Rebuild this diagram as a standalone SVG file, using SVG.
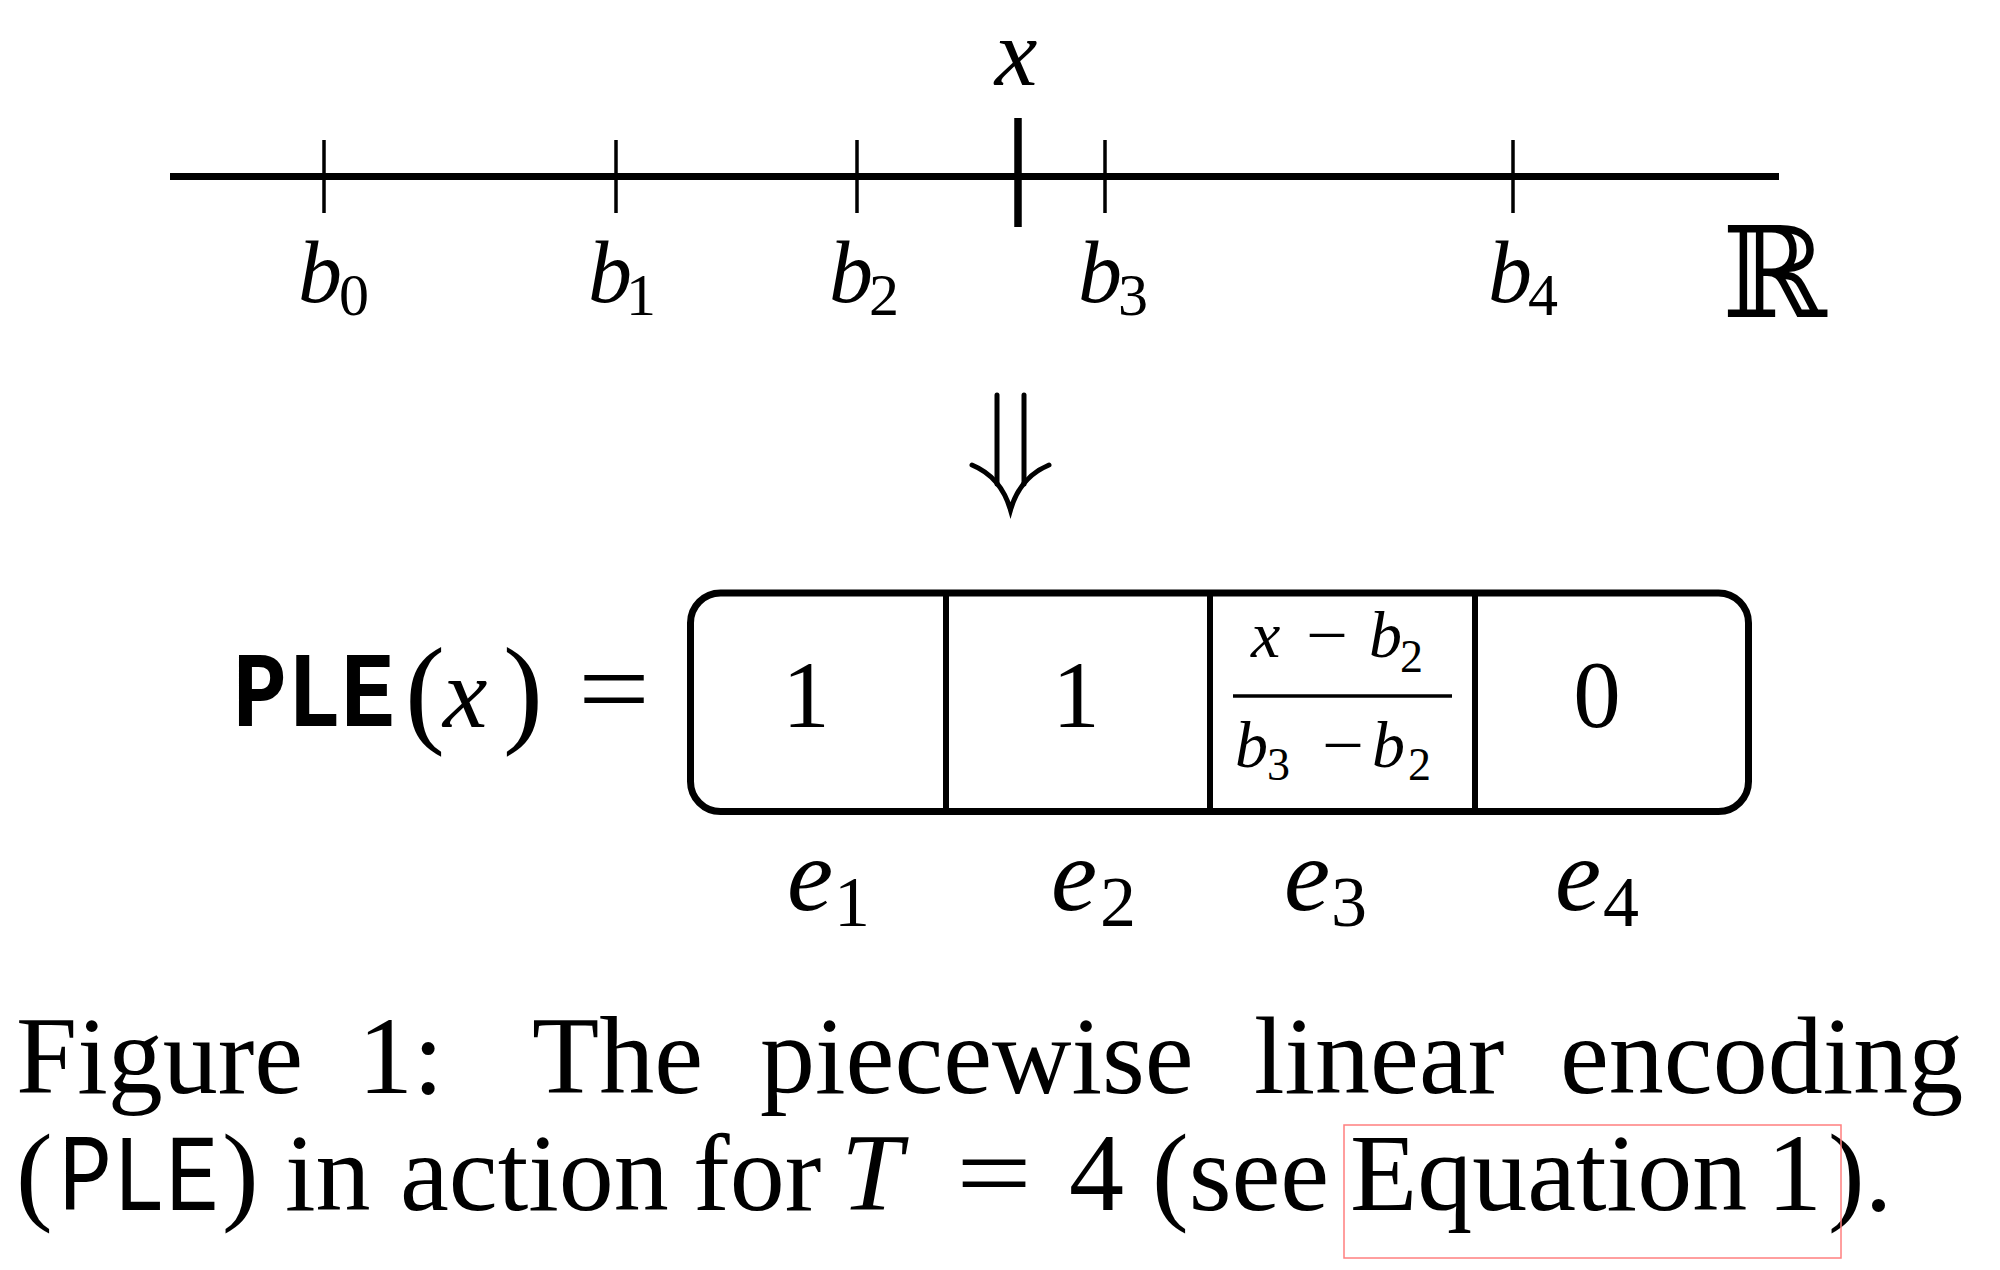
<svg xmlns="http://www.w3.org/2000/svg" width="2000" height="1270" viewBox="0 0 2000 1270">
<style>
.mi{font-family:"Liberation Serif",serif;font-style:italic;fill:#000}
.rm{font-family:"Liberation Serif",serif;fill:#000}
.tt{font-family:"Liberation Mono",monospace;fill:#000}
.lab{font-size:88px}
.sub{font-size:60px;font-style:normal}
.el{font-size:104px}
.esub{font-size:72px;font-style:normal}
.fr{font-size:66px}
.frs{font-size:46px;font-style:normal}
.cap{font-size:110px}
.ln{stroke:#000;fill:none}
</style>
<rect width="2000" height="1270" fill="#fff"/>

<g id="number-line">
  <line class="ln" x1="170" y1="176.5" x2="1779" y2="176.5" stroke-width="7"/>
  <g class="ln" stroke-width="3.5">
    <line x1="324" y1="140" x2="324" y2="213"/>
    <line x1="616" y1="140" x2="616" y2="213"/>
    <line x1="857" y1="140" x2="857" y2="213"/>
    <line x1="1105" y1="140" x2="1105" y2="213"/>
    <line x1="1513" y1="140" x2="1513" y2="213"/>
  </g>
  <line class="ln" x1="1018" y1="118" x2="1018" y2="227" stroke-width="7.5"/>
</g>

<g id="label-x"><text class="mi" x="1016" y="85" font-size="96" text-anchor="middle">x</text></g>
<g id="label-b0"><text class="mi lab" x="298" y="302">b<tspan class="sub" x="339" y="315">0</tspan></text></g>
<g id="label-b1"><text class="mi lab" x="588" y="302">b<tspan class="sub" x="626" y="315">1</tspan></text></g>
<g id="label-b2"><text class="mi lab" x="829" y="302">b<tspan class="sub" x="869" y="315">2</tspan></text></g>
<g id="label-b3"><text class="mi lab" x="1078" y="302">b<tspan class="sub" x="1118" y="315">3</tspan></text></g>
<g id="label-b4"><text class="mi lab" x="1488" y="302">b<tspan class="sub" x="1528" y="315">4</tspan></text></g>
<g id="label-R"><text x="1722" y="317" font-family="DejaVu Serif, DejaVu Sans, serif" font-size="126">ℝ</text></g>

<g id="connectors">
  <g class="ln" stroke-width="5" stroke-linecap="round">
    <line x1="997" y1="395" x2="997" y2="484"/>
    <line x1="1024" y1="395" x2="1024" y2="484"/>
    <path d="M972,465 Q1001,477 1010.5,510 Q1020,477 1049,465"/>
  </g>
</g>

<g id="ple-label">
  <text class="tt" x="233" y="726" font-size="108" font-weight="bold" textLength="162" lengthAdjust="spacingAndGlyphs">PLE</text>
  <text class="rm" x="405" y="731" font-size="120">(</text>
  <text class="mi" x="443" y="727" font-size="100">x</text>
  <text class="rm" x="503" y="731" font-size="120">)</text>
  <text class="rm" x="578" y="726" font-size="112" textLength="72" lengthAdjust="spacingAndGlyphs">=</text>
</g>

<g id="vector">
  <rect class="ln" x="690.5" y="593" width="1058" height="218.5" rx="30" ry="30" stroke-width="7"/>
  <g class="ln" stroke-width="6">
    <line x1="946" y1="593" x2="946" y2="811.5"/>
    <line x1="1210" y1="593" x2="1210" y2="811.5"/>
    <line x1="1475" y1="593" x2="1475" y2="811.5"/>
  </g>
</g>

<g id="cell-e1"><text class="rm" x="806" y="727" font-size="95" text-anchor="middle">1</text></g>
<g id="cell-e2"><text class="rm" x="1076" y="727" font-size="95" text-anchor="middle">1</text></g>
<g id="cell-e3">
  <text class="mi fr" x="1251" y="657">x</text>
  <text class="rm fr" x="1306" y="657" textLength="42" lengthAdjust="spacingAndGlyphs">−</text>
  <text class="mi fr" x="1369" y="657">b<tspan class="frs" x="1400" y="672">2</tspan></text>
  <line class="ln" x1="1233" y1="696" x2="1452" y2="696" stroke-width="3.5"/>
  <text class="mi fr" x="1235" y="767">b<tspan class="frs" x="1267" y="780">3</tspan></text>
  <text class="rm fr" x="1322" y="767" textLength="42" lengthAdjust="spacingAndGlyphs">−</text>
  <text class="mi fr" x="1372" y="767">b<tspan class="frs" x="1408" y="780">2</tspan></text>
</g>
<g id="cell-e4"><text class="rm" x="1597" y="727" font-size="95" text-anchor="middle">0</text></g>

<g id="label-e1"><text class="mi el" x="787" y="910">e<tspan class="esub" x="834" y="926">1</tspan></text></g>
<g id="label-e2"><text class="mi el" x="1051" y="910">e<tspan class="esub" x="1100" y="926">2</tspan></text></g>
<g id="label-e3"><text class="mi el" x="1284" y="910">e<tspan class="esub" x="1331" y="926">3</tspan></text></g>
<g id="label-e4"><text class="mi el" x="1555" y="910">e<tspan class="esub" x="1603" y="926">4</tspan></text></g>

<g id="caption">
  <text class="rm cap" y="1093"><tspan x="16">Figure</tspan><tspan x="358">1:</tspan><tspan x="532">The</tspan><tspan x="760">piecewise</tspan><tspan x="1254">linear</tspan><tspan x="1560">encoding</tspan></text>
  <text class="rm cap" x="16" y="1210">(</text>
  <text class="tt cap" x="59" y="1210" textLength="160" lengthAdjust="spacingAndGlyphs">PLE</text>
  <text class="rm cap" y="1210"><tspan x="222">)</tspan><tspan x="285">in</tspan><tspan x="400">action</tspan><tspan x="693">for</tspan></text>
  <text class="mi cap" x="841" y="1210">T</text>
  <text class="rm cap" x="956" y="1210" textLength="76" lengthAdjust="spacingAndGlyphs">=</text>
  <text class="rm cap" y="1210"><tspan x="1069">4</tspan><tspan x="1152">(see</tspan><tspan x="1350">Equation</tspan><tspan x="1767">1</tspan><tspan x="1828">).</tspan></text>
  <rect x="1344" y="1125" width="497" height="133" fill="none" stroke="#ff7f7f" stroke-width="1.5"/>
</g>
</svg>
